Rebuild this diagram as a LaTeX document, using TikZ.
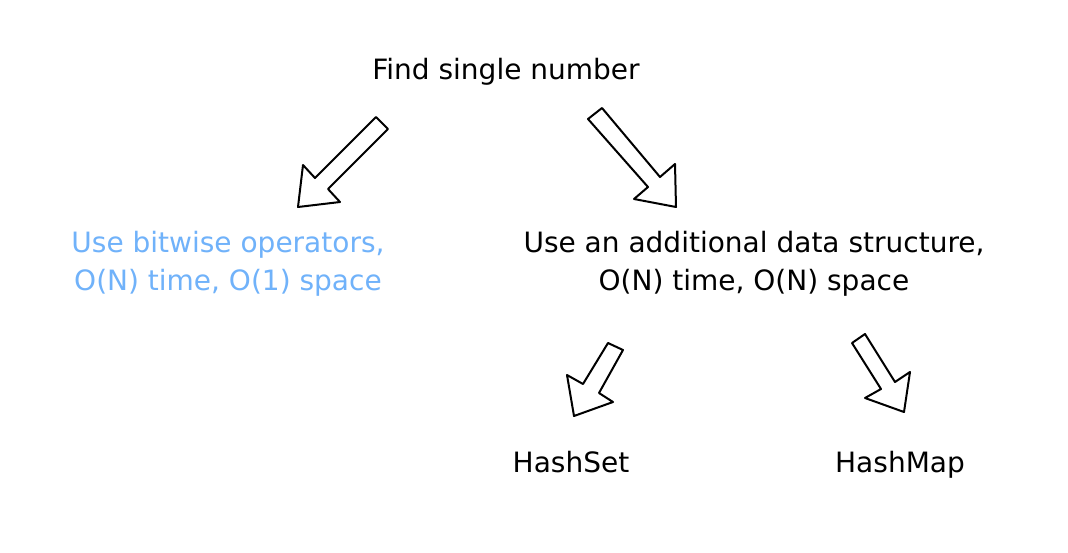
\documentclass[tikz,border=0pt]{standalone}
\usepackage{fontspec}
\setmainfont{DejaVu Sans}
\definecolor{lightblue}{RGB}{112,178,250}
\begin{document}
\begin{tikzpicture}[x=1pt,y=-1pt,
  lbl/.style={font=\fontsize{28}{38}\selectfont, align=center, inner sep=0pt, text=black},
  blockarrow/.style={draw=black, fill=white, line width=2pt, line join=round}]
\fill[white] (0,0) rectangle (1068,552);
\useasboundingbox (0,0) rectangle (1068,552);

\node[lbl] (root) at (506,72) {Find single number};
\node[lbl, text=lightblue] (bit) at (228,264) {Use bitwise operators,\\O(N) time, O(1) space};
\node[lbl] (ds) at (754,264) {Use an additional data structure,\\O(N) time, O(N) space};
\node[lbl] (set) at (571,462) {HashSet};
\node[lbl] (map) at (900,465) {HashMap};

% block arrows
\draw[blockarrow] (376,117) -- (388,129) -- (328,189) -- (340,202) -- (298,207) -- (303,165) -- (315,178) -- cycle;
\draw[blockarrow] (602,108) -- (660,177) -- (675,164) -- (676,207) -- (634,199) -- (648,187) -- (588,119) -- cycle;
\draw[blockarrow] (608,343) -- (623,350) -- (599,393) -- (613,402) -- (574,416) -- (567,375) -- (583,384) -- cycle;
\draw[blockarrow] (865,334) -- (895,382) -- (910,372) -- (904,412) -- (865,398) -- (881,389) -- (852,343) -- cycle;
\end{tikzpicture}
\end{document}
